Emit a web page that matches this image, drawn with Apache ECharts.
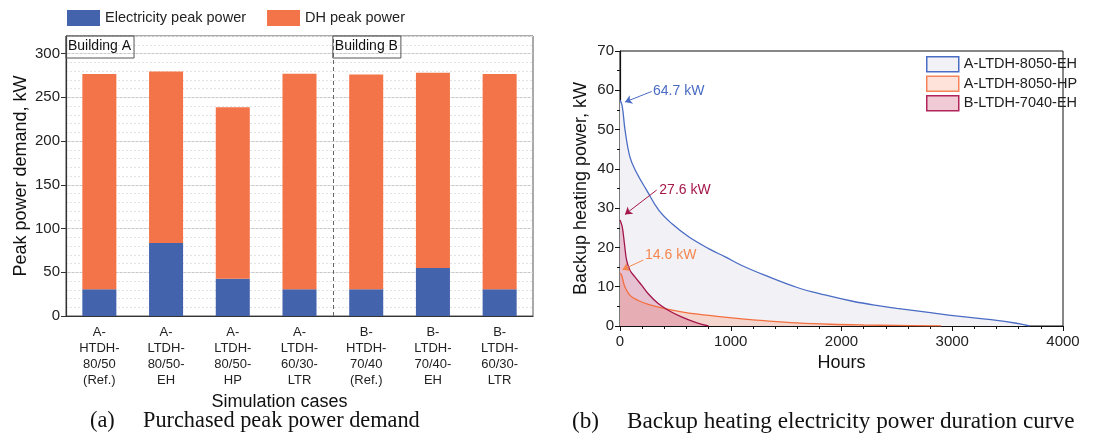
<!DOCTYPE html>
<html>
<head>
<meta charset="utf-8">
<script src="https://cdn.jsdelivr.net/npm/echarts@6/dist/echarts.min.js"></script>
<style>
  html, body { margin: 0; padding: 0; background: #fff; }
  #chart { width: 1099px; height: 434px; }
</style>
</head>
<body>
<div id="chart"></div>
<script>
// (a) purchased peak power demand
const cases = [
  "A-\nHTDH-\n80/50\n(Ref.)",
  "A-\nLTDH-\n80/50-\nEH",
  "A-\nLTDH-\n80/50-\nHP",
  "A-\nLTDH-\n60/30-\nLTR",
  "B-\nHTDH-\n70/40\n(Ref.)",
  "B-\nLTDH-\n70/40-\nEH",
  "B-\nLTDH-\n60/30-\nLTR",
];
const elecPeak = [30.5, 83.5, 42.5, 30.5, 30.5, 55, 30.5];
const dhPeak = [246, 196, 196, 246.5, 245.5, 223, 246];
const buildings = ["Building A", "Building B"];
const buildingStart = [0, 4]; // category boundary where each building starts

// (b) backup heating duration curves, hours / kW
const hoursA_EH = [0, 20, 45, 90, 150, 240, 350, 470, 620, 800, 950, 1100, 1300, 1600, 1850, 2100, 2300, 2500, 2750, 3050, 3350, 3580, 3700];
const powerA_EH = [57.5, 56, 50, 43, 39, 34.6, 29.5, 26, 22.7, 19.7, 17.6, 15.4, 13, 9.8, 7.9, 6.3, 5.3, 4.5, 3.6, 2.5, 1.6, 0.7, 0];
const hoursA_HP = [0, 15, 45, 90, 165, 255, 405, 555, 705, 920, 1100, 1300, 1600, 1900, 2200, 2500, 2900];
const powerA_HP = [13.5, 12.9, 9.9, 7.8, 6.5, 5.5, 4.4, 3.6, 3.0, 2.3, 1.8, 1.35, 0.8, 0.45, 0.26, 0.15, 0.05];
const hoursB_EH = [0, 20, 40, 60, 90, 135, 195, 255, 345, 435, 555, 675, 800];
const powerB_EH = [27, 25.3, 21, 16.7, 14.2, 12.5, 10.4, 8.2, 5.7, 4.0, 2.3, 1.0, 0];
const peakLabels = ["64.7 kW", "14.6 kW", "27.6 kW"];

const font = "Liberation Sans, Arial, sans-serif";
const serif = "Liberation Serif, Times New Roman, serif";
const txt = "#222";

const pairs = (xs, ys) => xs.map((x, i) => [x, ys[i]]);

const chart = echarts.init(document.getElementById("chart"));

function arrow(color, from, to, text, at) {
  return {
    markLine: {
      silent: true,
      symbol: ["none", "arrow"],
      symbolSize: 7,
      lineStyle: { color: color, width: 1, type: "solid" },
      label: { show: false },
      data: [[{ coord: from }, { coord: to }]],
    },
    markPoint: {
      silent: true,
      symbol: "circle",
      symbolSize: 0,
      label: {
        show: true, position: "insideLeft", distance: 0,
        formatter: text, color: color, fontSize: 14, fontFamily: font,
      },
      data: [{ coord: at }],
    },
  };
}

function caption(tag, text, left, size, gap) {
  const s = { fontFamily: serif, fontSize: size, color: "#111", fontWeight: "normal" };
  return {
    text: "{a|" + tag + "}{b|" + text + "}",
    left: left, top: 410, padding: 0,
    textStyle: { fontWeight: "normal", rich: { a: Object.assign({ width: gap }, s), b: s } },
  };
}

const option = {
  animation: false,
  textStyle: { fontFamily: font },
  title: [
    caption("(a)", "Purchased peak power demand", 90, 22.3, 53),
    caption("(b)", "Backup heating electricity power duration curve", 572, 23.2, 55),
  ],
  legend: [
    {
      left: 67, top: 10, padding: 0,
      icon: "rect", itemWidth: 33, itemHeight: 16, itemGap: 21,
      textStyle: { fontSize: 14.5, color: txt, fontFamily: font },
      data: ["Electricity peak power", "DH peak power"],
    },
    {
      left: 926, top: 56, padding: 0, orient: "vertical",
      icon: "rect", itemWidth: 32, itemHeight: 15, itemGap: 3,
      textStyle: { fontSize: 14.5, color: txt, fontFamily: font },
      data: [
        { name: "A-LTDH-8050-EH", itemStyle: { color: "#f2f2f6", borderColor: "#4a6cc4", borderWidth: 1.5 } },
        { name: "A-LTDH-8050-HP", itemStyle: { color: "#fde3da", borderColor: "#f5845a", borderWidth: 1.5 } },
        { name: "B-LTDH-7040-EH", itemStyle: { color: "#f0cad5", borderColor: "#b0245a", borderWidth: 1.5 } },
      ],
    },
  ],
  grid: [
    { left: 66, top: 36, width: 467, height: 280, show: true, borderColor: "#555", borderWidth: 1 },
    { left: 620, top: 51, width: 443, height: 275, show: true, borderColor: "#111", borderWidth: 1 },
  ],
  xAxis: [
    {
      type: "category", gridIndex: 0, data: cases,
      axisLine: { lineStyle: { color: "#333", width: 1.2 } },
      axisTick: { alignWithLabel: true, length: 4, lineStyle: { color: "#333" } },
      axisLabel: { interval: 0, fontSize: 13, lineHeight: 16, color: txt, margin: 8 },
      name: "Simulation cases", nameLocation: "middle", nameGap: 72,
      nameTextStyle: { fontSize: 18, color: "#111", padding: [0, 40, 0, 0] },
    },
    { type: "value", gridIndex: 0, min: 0, max: 7, show: false },
    {
      type: "value", gridIndex: 1, min: 0, max: 4000, interval: 1000,
      axisLine: { lineStyle: { color: "#111", width: 1.2 } },
      axisTick: { length: 5, lineStyle: { color: "#111" } },
      minorTick: { show: true, splitNumber: 5, length: 3, lineStyle: { color: "#111" } },
      splitLine: { show: false },
      axisLabel: { fontSize: 15, color: txt, margin: 8, formatter: (v) => String(v) },
      name: "Hours", nameLocation: "middle", nameGap: 28,
      nameTextStyle: { fontSize: 18, color: "#111" },
    },
  ],
  yAxis: [
    {
      type: "value", gridIndex: 0, min: 0, max: 320, interval: 50,
      axisLine: { show: true, lineStyle: { color: "#333", width: 1.2 } },
      axisTick: { show: true, length: 5, lineStyle: { color: "#333" } },
      axisLabel: { fontSize: 15, color: txt, showMaxLabel: false, margin: 6 },
      splitLine: { lineStyle: { color: "#c8c8c8", width: 1 } },
      name: "Peak power demand, kW", nameLocation: "middle", nameGap: 36,
      nameTextStyle: { fontSize: 18, color: "#111" },
    },
    {
      type: "value", gridIndex: 0, min: 0, max: 320, interval: 10, position: "left",
      axisLine: { show: false },
      axisTick: { show: false },
      axisLabel: { show: false },
      splitLine: { lineStyle: { color: "#e2e2e2", width: 1, type: [2, 2] } },
    },
    {
      type: "value", gridIndex: 1, min: 0, max: 70, interval: 10,
      axisLine: { show: true, lineStyle: { color: "#111", width: 1.2 } },
      axisTick: { show: true, length: 5, lineStyle: { color: "#111" } },
      minorTick: { show: true, splitNumber: 2, length: 3, lineStyle: { color: "#111" } },
      splitLine: { show: false },
      axisLabel: { fontSize: 15, color: txt, margin: 6 },
      name: "Backup heating power, kW", nameLocation: "middle", nameGap: 30,
      nameTextStyle: { fontSize: 18, color: "#111" },
    },
  ],
  series: [
    {
      name: "Electricity peak power", type: "bar", stack: "peak",
      xAxisIndex: 0, yAxisIndex: 0, barWidth: "51%",
      itemStyle: { color: "#4463ad" }, data: elecPeak,
    },
    {
      name: "DH peak power", type: "bar", stack: "peak",
      xAxisIndex: 0, yAxisIndex: 0, barWidth: "51%",
      itemStyle: { color: "#f47449" }, data: dhPeak,
    },
    {
      // building separator and labels
      type: "line", xAxisIndex: 1, yAxisIndex: 0, silent: true,
      symbol: "none", lineStyle: { opacity: 0 }, data: [[0, 0]],
      markLine: {
        silent: true, symbol: "none", label: { show: false },
        lineStyle: { color: "#666", width: 1, type: [4, 3] },
        data: [{ xAxis: buildingStart[1] }],
      },
      markPoint: {
        silent: true, symbol: "circle", symbolSize: 0,
        label: {
          show: true, position: "insideTopLeft", distance: 0,
          formatter: (p) => p.name, fontSize: 14, color: "#111",
          borderColor: "#555", borderWidth: 1, padding: [3, 3, 5, 2],
        },
        data: buildings.map((b, i) => ({ name: b, coord: [buildingStart[i], 320] })),
      },
    },
    Object.assign({
      name: "A-LTDH-8050-EH", type: "line", xAxisIndex: 2, yAxisIndex: 2,
      smooth: 0.4, symbol: "none",
      itemStyle: { color: "#4a6cc4" },
      lineStyle: { color: "#4a6cc4", width: 1.3 },
      areaStyle: { color: "#f2f2f6", opacity: 1 },
      data: pairs(hoursA_EH, powerA_EH),
    }, arrow("#4a6cc4", [286, 59.7], [45, 57], peakLabels[0], [298, 59.7])),
    Object.assign({
      name: "A-LTDH-8050-HP", type: "line", xAxisIndex: 2, yAxisIndex: 2,
      smooth: 0.4, symbol: "none",
      itemStyle: { color: "#f46f3f" },
      lineStyle: { color: "#f46f3f", width: 1.3 },
      areaStyle: { color: "#f8b9a6", opacity: 0.5 },
      data: pairs(hoursA_HP, powerA_HP),
    }, arrow("#f5864f", [211, 16.8], [21, 14.3], peakLabels[1], [226, 18])),
    Object.assign({
      name: "B-LTDH-7040-EH", type: "line", xAxisIndex: 2, yAxisIndex: 2,
      smooth: 0.4, symbol: "none",
      itemStyle: { color: "#a3154a" },
      lineStyle: { color: "#a3154a", width: 1.3 },
      areaStyle: { color: "#c8507a", opacity: 0.3 },
      data: pairs(hoursB_EH, powerB_EH),
    }, arrow("#a5184a", [331, 34.6], [45, 28.4], peakLabels[2], [355, 34.6])),
  ],
};

chart.setOption(option);
</script>
</body>
</html>
